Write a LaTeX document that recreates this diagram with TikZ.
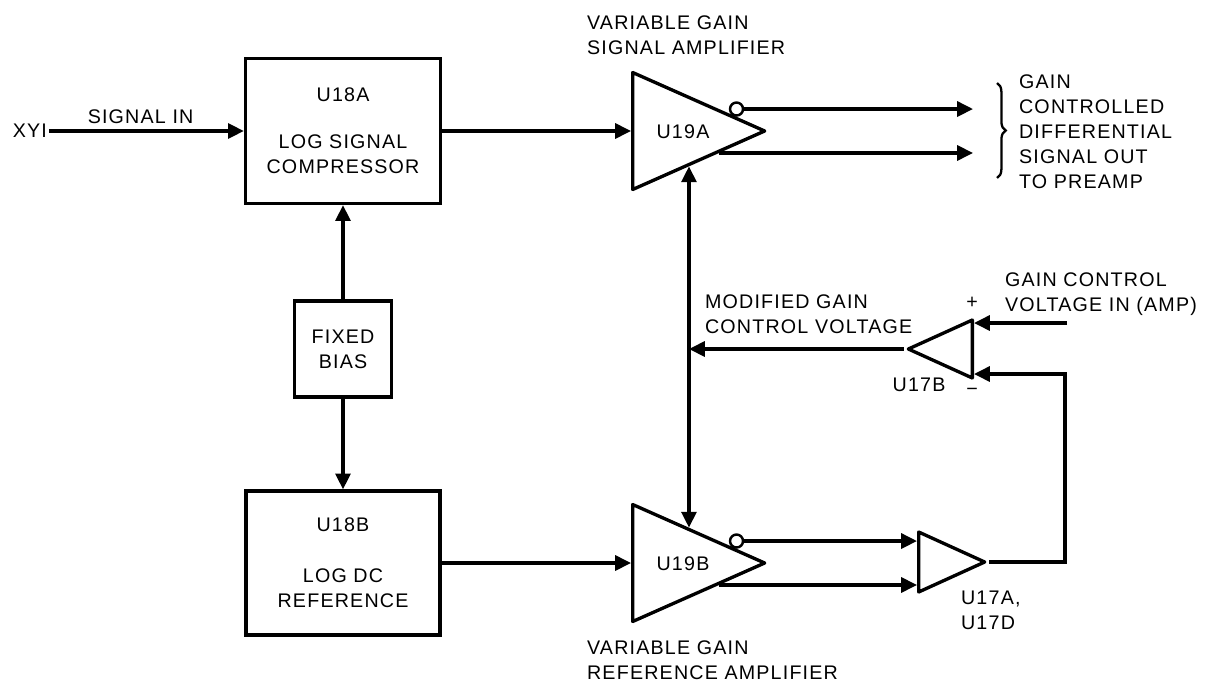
\documentclass[tikz,border=0pt]{standalone}
\usepackage{fontspec}
\setmainfont{Liberation Sans}[LetterSpace=6]
\usetikzlibrary{arrows.meta,positioning,shapes.geometric,decorations.pathreplacing,calc}
\tikzset{
  >={Triangle[length=9pt,width=8.5pt]},
  lbl/.style={font=\fontsize{11.2}{14.2}\selectfont, inner sep=1pt, align=left},
  block/.style={
    rectangle, draw, line width=1.9pt, align=center,
    font=\fontsize{11.2}{14.2}\selectfont, inner sep=0pt
  },
  amp/.style={
    isosceles triangle, isosceles triangle stretches, draw,
    line width=1.9pt, line join=round, inner sep=0pt
  },
  bubble/.style={circle, draw, line width=1.4pt, minimum size=0.26cm, inner sep=0pt, fill=white},
  sig/.style={->, line width=1.9pt},
  outbrace/.style={decorate, decoration={brace, amplitude=5pt}, line width=1.3pt}
}

\begin{document}
\begin{tikzpicture}[x=0.02cm, y=-0.02cm]
\fill[white] (0,0) rectangle (1219,683);
\useasboundingbox (0,0) rectangle (1219,683);
\node[block, minimum width=3.9cm, minimum height=2.9cm] (u18a) at (343,131) {U18A\\[12.5pt]LOG SIGNAL\\COMPRESSOR};
\node[block, minimum width=1.94cm, minimum height=1.92cm] (bias) at (343,349) {FIXED\\BIAS};
\node[block, minimum width=3.88cm, minimum height=2.88cm] (u18b) at (343,563) {U18B\\[14.8pt]LOG DC\\REFERENCE};
\node[lbl, anchor=east] (xyi) at (49,131) {XYI};
\draw[sig] (xyi) -- node[lbl, above=2pt, pos=0.47] (sigin) {SIGNAL IN} (u18a);
\draw[sig] (bias) -- (u18a);
\draw[sig] (bias) -- (u18b);

\node[amp, minimum width=2.34cm, minimum height=2.64cm, anchor=lower side] (u19a) at (631,131) {};
\node[amp, minimum width=2.34cm, minimum height=2.64cm, anchor=lower side] (u19b) at (631,563) {};
\node[lbl] (u19alab) at (683,132) {U19A};
\node[lbl] (u19blab) at (683,564) {U19B};
\node[lbl, anchor=west] (u19atitle) at (585,35.5) {VARIABLE GAIN\\SIGNAL AMPLIFIER};
\node[lbl, anchor=west] (u19btitle) at (585,660.5) {VARIABLE GAIN\\REFERENCE AMPLIFIER};
\draw[sig] (u18a) -- (u19a.lower side);
\draw[sig] (u18b) -- (u19b.lower side);

\node[bubble] (bA) at ($(u19a.left corner)!0.74!(u19a.apex)+(3.4,-6.1)$) {};
\node[bubble] (bB) at ($(u19b.left corner)!0.74!(u19b.apex)+(3.4,-6.1)$) {};
\coordinate (eA) at ($(u19a.right corner)!0.64!(u19a.apex)$);
\coordinate (eB) at ($(u19b.right corner)!0.64!(u19b.apex)$);
\coordinate (ctlA) at ($(u19a.right corner)!0.42!(u19a.apex)$);
\coordinate (ctlB) at ($(u19b.left corner)!0.42!(u19b.apex)$);
\draw[sig, <->] (ctlB) -- (ctlA);

\coordinate (pre) at (973,131);
\draw[sig] (bA) -- (bA -| pre);
\draw[sig] (eA) -- (eA -| pre);
\draw[outbrace] (997,83) -- (997,178);
\node[lbl, anchor=west] (outtxt) at (1017,132) {GAIN\\CONTROLLED\\DIFFERENTIAL\\SIGNAL OUT\\TO PREAMP};

\node[amp, minimum width=1.2cm, minimum height=1.32cm, anchor=lower side] (u17a) at (917,562) {};
\node[lbl, anchor=west] (u17alab) at (959,610.5) {U17A,\\U17D};
\draw[sig] (bB) -- (bB -| u17a.lower side);
\draw[sig] (eB) -- (eB -| u17a.lower side);

\node[amp, shape border rotate=180, minimum width=1.16cm, minimum height=1.28cm, anchor=lower side] (u17b) at (974,349) {};
\node[lbl] (u17blab) at (919,385) {U17B};
\node[lbl] (plus) at (972,303) {+};
\node[lbl] (minus) at (972,392) {−};
\coordinate (u17bp) at ($(u17b.lower side)+(0,-26)$);
\coordinate (u17bn) at ($(u17b.lower side)+(0,25)$);
\coordinate (gcin) at ($(u17bp)+(93,0)$);
\coordinate (fb) at (1065,470);
\draw[sig] (gcin) -- (u17bp);
\draw[sig] (u17a.apex) -| (fb) |- (u17bn);
\draw[sig] (u17b.apex) -- (u17b.apex -| ctlA);
\node[lbl, anchor=west] (modtxt) at (703,314.5) {MODIFIED GAIN\\CONTROL VOLTAGE};
\node[lbl, anchor=west] (gctxt) at (1003,294.5) {GAIN CONTROL\\VOLTAGE IN (AMP)};
\end{tikzpicture}
\end{document}
